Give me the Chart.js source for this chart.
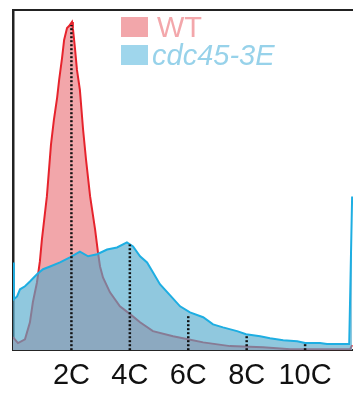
<!DOCTYPE html>
<html>
<head>
<meta charset="utf-8">
<script src="https://cdn.jsdelivr.net/npm/chart.js@4"></script>
<style>
  html, body { margin: 0; padding: 0; background: #fff; }
  #wrap { width: 353px; height: 396px; }
</style>
</head>
<body>
<div id="wrap"><canvas id="myChart"></canvas></div>
<script>
// DNA content in C units
const wtDna = [0, 0.17, 0.41, 0.58, 0.68, 0.82, 0.92, 0.99, 1.16, 1.30, 1.40, 1.51, 1.58, 1.68, 1.75, 1.85, 1.92, 2.02, 2.05, 2.12, 2.19, 2.29, 2.40, 2.50, 2.64, 2.81, 2.91, 2.98, 3.08, 3.32, 3.66, 4.01, 4.35, 4.79, 5.48, 5.99, 6.51, 7.43, 8.56, 9.49, 11.54, 11.61];
const wtCounts = [3.8, 2.1, 3.2, 8.2, 14.1, 19.9, 26.1, 32.6, 45.2, 60.4, 67.7, 74.2, 79.5, 85.9, 91.2, 94.7, 95.3, 96.5, 94.7, 88.9, 82.4, 76.5, 64.8, 56.0, 45.2, 35.5, 28.7, 24.6, 21.4, 17.0, 12.9, 10.6, 8.2, 5.6, 4.1, 3.2, 2.3, 1.2, 0.9, 0.3, 0.3, 1.5];

const cdcDna = [0, 0.03, 0.14, 0.24, 0.41, 0.58, 0.82, 1.03, 1.27, 1.61, 1.95, 2.29, 2.57, 2.88, 3.22, 3.56, 3.90, 4.11, 4.35, 4.59, 4.79, 5.03, 5.38, 5.72, 6.06, 6.51, 6.85, 7.19, 7.67, 7.98, 8.46, 8.80, 9.25, 9.73, 10.00, 10.51, 10.75, 11.51, 11.61];
const cdcCounts = [25.8, 15.0, 15.8, 17.9, 18.8, 20.2, 22.3, 23.8, 24.6, 25.8, 27.3, 29.0, 27.6, 28.2, 29.6, 30.2, 31.7, 30.5, 27.6, 25.8, 22.9, 19.4, 16.1, 12.9, 11.1, 9.7, 7.6, 6.7, 5.6, 4.7, 4.1, 3.5, 2.9, 2.6, 2.1, 2.1, 1.8, 1.8, 45.2];

// ploidy markers (dotted lines) and how high they reach
const markerC = [2, 4, 6, 8, 10];
const markerTops = [95.6, 31.1, 10.6, 4.4, 2.1];
const tickLabels = ["2C", "4C", "6C", "8C", "10C"];

const seriesNames = ["WT", "cdc45-3E"];

function toPoints(xs, ys) {
  return xs.map((x, i) => ({ x: x, y: ys[i] }));
}

const markerSets = markerC.map((c, i) => ({
  label: "marker " + tickLabels[i],
  data: [{ x: c, y: 0 }, { x: c, y: markerTops[i] }],
  borderColor: "#111",
  borderWidth: 2.5,
  borderDash: [2, 2],
  pointRadius: 0,
  fill: false,
  order: 0,
}));

// legend drawn inside the plot, like the figure
const insideLegend = {
  id: "insideLegend",
  afterDraw(chart) {
    const ctx = chart.ctx;
    const items = [
      { text: seriesNames[0], box: "#f2a6aa", color: "#f3a7ab", style: "" },
      { text: seriesNames[1], box: "#9fd6ec", color: "#97d2ea", style: "italic " },
    ];
    ctx.save();
    items.forEach((it, i) => {
      const top = 17 + i * 28;
      ctx.fillStyle = it.box;
      ctx.fillRect(121, top, 27, 20);
      ctx.fillStyle = it.color;
      ctx.font = it.style + "29px 'Liberation Sans', Arial, sans-serif";
      ctx.textBaseline = "alphabetic";
      ctx.fillText(it.text, i === 0 ? 157 : 152, top + 20);
    });
    ctx.restore();
  },
};

const ctx = document.getElementById("myChart").getContext("2d");
const chart = new Chart(ctx, {
  type: "line",
  data: {
    datasets: [
      ...markerSets,
      {
        label: seriesNames[1],
        data: toPoints(cdcDna, cdcCounts),
        borderColor: "#1eaee2",
        backgroundColor: "rgba(85,170,205,0.65)",
        borderWidth: 2,
        pointRadius: 0,
        fill: "origin",
        order: 1,
      },
      {
        label: seriesNames[0],
        data: toPoints(wtDna, wtCounts),
        borderColor: "#e6232c",
        backgroundColor: "#f2a6aa",
        borderWidth: 2,
        pointRadius: 0,
        fill: "origin",
        order: 2,
      },
    ],
  },
  options: {
    responsive: true,
    maintainAspectRatio: false,
    animation: false,
    layout: { padding: { left: 13, top: 10, right: 0, bottom: -5 } },
    plugins: { legend: { display: false }, tooltip: { enabled: false } },
    scales: {
      x: {
        type: "linear",
        min: 0,
        max: 11.64,
        grid: { display: false, drawTicks: false },
        border: { display: true, color: "#222", width: 2 },
        afterBuildTicks: (axis) => {
          axis.ticks = markerC.map((v) => ({ value: v }));
        },
        ticks: {
          padding: 8,
          color: "#111",
          font: { family: "'Liberation Sans', Arial, sans-serif", size: 29 },
          callback: (v) => tickLabels[markerC.indexOf(v)] || "",
          maxRotation: 0,
          autoSkip: false,
        },
      },
      xTop: {
        type: "linear",
        position: "top",
        min: 0,
        max: 11.64,
        grid: { display: false, drawTicks: false },
        border: { display: true, color: "#222", width: 2 },
        ticks: { display: false },
      },
      y: {
        min: 0,
        max: 100,
        grid: { display: false, drawTicks: false },
        border: { display: true, color: "#222", width: 2.5 },
        ticks: { display: false },
      },
    },
  },
  plugins: [insideLegend],
});
</script>
</body>
</html>
